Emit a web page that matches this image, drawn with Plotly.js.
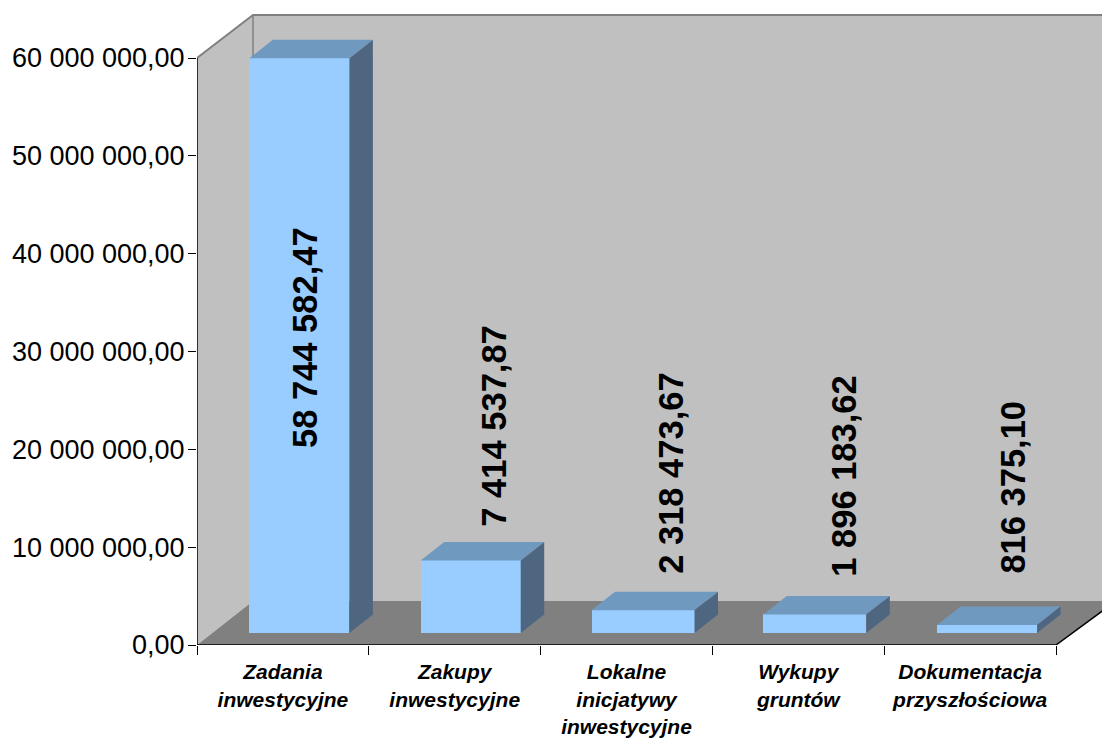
<!DOCTYPE html>
<html><head><meta charset="utf-8">
<script src="https://cdn.plot.ly/plotly-3.0.1.min.js"></script>
<style>html,body{margin:0;padding:0;background:#fff}#c{width:1102px;height:740px}</style>
</head><body><div id="c"></div>
<script>
var categories = ['Zadania<br>inwestycyjne','Zakupy<br>inwestycyjne','Lokalne<br>inicjatywy<br>inwestycyjne','Wykupy<br>gruntów','Dokumentacja<br>przyszłościowa'];
var values = [58744582.47, 7414537.87, 2318473.67, 1896183.62, 816375.10];
var valueLabels = ['58 744 582,47','7 414 537,87','2 318 473,67','1 896 183,62','816 375,10'];
var yTickVals = [0,10000000,20000000,30000000,40000000,50000000,60000000];
var yTickText = ['0,00','10 000 000,00','20 000 000,00','30 000 000,00','40 000 000,00','50 000 000,00','60 000 000,00'];
var labelShiftX = [5, 23, 28, 29, 25];
var labelShiftY = [8, 32, 34, 36, 49];
var barShiftPx = [16.5, 16, 16.5, 16.5, 17];
var barWidthPx = [100, 100, 103, 103, 100];

// plot geometry (pixels) used only to convert pseudo-3D offsets to axis units
var W=1102,H=740,L=197,R=1056,Y0=645,Y60=58,TOP=15,PLOT_TOP=8;
var pxPerSlot=(R-L)/5, pxPerVal=(Y0-Y60)/60000000;
var dx=function(p){return p/pxPerSlot;}, dy=function(p){return p/pxPerVal;};
var xMax=dx(W-L), yMax=dy(Y0-PLOT_TOP), wallTop=dy(Y0-TOP), wallX=dx(56), wallY=dy(44), floorBase=dy(12), floorRightX=dx(60);
var depX=dx(23.5), depY=dy(18.5);
var centers=categories.map(function(_,i){return i+0.5;});
var barX=centers.map(function(c,i){return c+dx(barShiftPx[i]);});
var barW=barWidthPx.map(dx);
var bounds=[0,1,2,3,4,5];

function poly(pts){return 'M'+pts.map(function(p){return p[0]+','+p[1];}).join('L')+'Z';}
function shape(pts,fill){return {type:'path',xref:'x',yref:'y',path:poly(pts),fillcolor:fill,line:{width:0},layer:'below'};}
function edge(xs,ys,col,w){return {type:'scatter',mode:'lines',x:xs,y:ys,line:{color:col,width:w},hoverinfo:'skip',showlegend:false,cliponaxis:false};}

var shapes=[
 shape([[0,0],[0,60000000],[wallX,wallTop],[wallX,wallY]],'#C0C0C0'),
 shape([[wallX,wallY],[wallX,wallTop],[xMax,wallTop],[xMax,wallY]],'#C0C0C0'),
 shape([[0,0],[5,0],[5+floorRightX,wallY],[xMax,wallY],[wallX,wallY]],'#808080'),
 {type:'line',xref:'x',yref:'y',x0:wallX,x1:wallX,y0:wallY,y1:wallTop,line:{color:'#808080',width:1.5},layer:'below'},
 {type:'path',xref:'x',yref:'y',path:'M0,60000000L'+wallX+','+wallTop+'L'+xMax+','+wallTop,line:{color:'#808080',width:2},layer:'below'}
];

var traces=[{
  type:'bar',x:barX,y:values,base:values.map(function(){return floorBase;}),width:barW,
  marker:{color:'#99CCFF',line:{width:0}},hoverinfo:'skip',showlegend:false
}];
values.forEach(function(v,i){
  var l=barX[i]-barW[i]/2,r=barX[i]+barW[i]/2,b=floorBase,t=floorBase+v;
  traces.push({type:'scatter',mode:'lines',x:[l,r,r+depX,l+depX,l],y:[t,t,t+depY,t+depY,t],
    fill:'toself',fillcolor:'#7099C0',line:{width:0},hoverinfo:'skip',showlegend:false,cliponaxis:false});
  traces.push({type:'scatter',mode:'lines',x:[r,r+depX,r+depX,r,r],y:[b,b+depY,t+depY,t,b],
    fill:'toself',fillcolor:'#4F6680',line:{width:0},hoverinfo:'skip',showlegend:false,cliponaxis:false});
});
traces.push(edge([0,0],[0,60000000],'#000000',1.5));
traces.push(edge([0,5,5+floorRightX],[0,0,wallY],'#000000',1.5));

var annotations=values.map(function(v,i){return {
  x:barX[i],y:floorBase+v/(i===0?2:1),xref:'x',yref:'y',text:valueLabels[i],textangle:-90,showarrow:false,
  xanchor:'center',yanchor:i===0?'middle':'bottom',xshift:labelShiftX[i],yshift:labelShiftY[i],
  font:{family:'Liberation Sans, Arial, sans-serif',size:34.5,color:'#000',weight:'bold'}
};});

Plotly.newPlot('c',traces,{
  width:W,height:H,margin:{l:L,r:0,t:PLOT_TOP,b:H-Y0,pad:0},
  paper_bgcolor:'#fff',plot_bgcolor:'rgba(0,0,0,0)',showlegend:false,
  font:{family:'Liberation Sans, Arial, sans-serif',color:'#000'},
  xaxis:{range:[0,xMax],showgrid:false,zeroline:false,showline:false,tickmode:'array',tickvals:centers,ticktext:categories,
    ticks:'outside',ticklen:9,tickcolor:'rgba(0,0,0,0)',tickangle:0,ticklabelstandoff:-1,
    tickfont:{size:21,style:'italic',weight:'bold',color:'#000',family:'Liberation Sans, Arial, sans-serif'},
    minor:{tickmode:'array',tickvals:bounds,ticks:'outside',ticklen:9,tickcolor:'#000',tickwidth:1,showgrid:false}},
  yaxis:{range:[0,yMax],showgrid:false,zeroline:false,showline:false,tickmode:'array',tickvals:yTickVals,ticktext:yTickText,
    ticks:'outside',ticklen:8,tickcolor:'#000',tickwidth:1,ticklabelstandoff:-2,tickfont:{size:27,color:'#000',family:'Liberation Sans, Arial, sans-serif'}},
  shapes:shapes,annotations:annotations,bargap:0
},{displayModeBar:false,staticPlot:true});
</script></body></html>
